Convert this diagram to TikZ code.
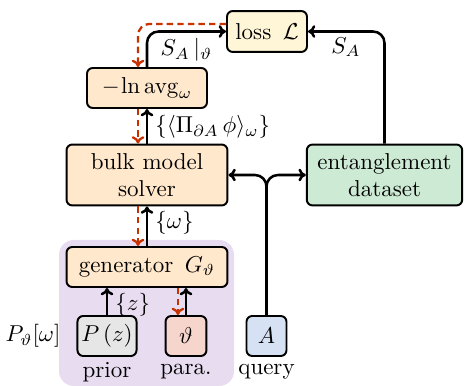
\documentclass[tikz,border=0pt]{standalone}
\usetikzlibrary{arrows.meta}
\definecolor{peach}{HTML}{FFE8CC}
\definecolor{lossy}{HTML}{FFF6D8}
\definecolor{greenf}{HTML}{CDEBD4}
\definecolor{grayf}{HTML}{E6E6E6}
\definecolor{bluef}{HTML}{D6E2F4}
\definecolor{pinkf}{HTML}{F6D6CC}
\definecolor{purplebg}{HTML}{E8DCF0}
\definecolor{redd}{RGB}{200,50,0}
\tikzset{
  box/.style={draw, line width=0.85pt, rounded corners=2.5pt, inner sep=0pt, align=center},
  blk/.style={line width=1.1pt, -{To[length=3.2pt,width=5.5pt]}},
  redarr/.style={line width=1pt, redd, dash pattern=on 2.8pt off 1.8pt, -{To[length=3.2pt,width=5.5pt]}},
  lbl/.style={inner sep=0pt}
}
\begin{document}
\begin{tikzpicture}[x=0.435pt,y=-0.435pt]
\useasboundingbox (0,0) rectangle (465,386);
\fill[purplebg, rounded corners=6.5pt] (59,240) rectangle (234,386);
\node[box, fill=lossy, minimum width=34.8pt, minimum height=17.8pt] (loss) at (267,31.5) {loss\enspace$\mathcal{L}$};
\node[box, fill=peach, minimum width=52.2pt, minimum height=17.4pt] (avg) at (147,88) {$-\mkern-2mu\ln \mathrm{avg}_\omega$};
\node[box, fill=peach, minimum width=70pt, minimum height=26.5pt] (bulk) at (147,175) {bulk model\\solver};
\node[box, fill=greenf, minimum width=67.6pt, minimum height=26.5pt] (data) at (384.5,175) {entanglement\\dataset};
\node[box, fill=peach, minimum width=70pt, minimum height=17.4pt] (gen) at (147,267) {generator\enspace$G_\vartheta$};
\node[box, fill=grayf, minimum width=25.7pt, minimum height=17.4pt] (pz) at (107,336) {$P\,(z)$};
\node[box, fill=pinkf, minimum width=17.8pt, minimum height=17.4pt] (th) at (186,336) {$\vartheta$};
\node[box, fill=bluef, minimum width=17.4pt, minimum height=17.4pt] (A) at (266.5,336) {$A$};
\node[lbl] (prior) at (107,372) {prior};
\node[lbl] (para) at (186,372) {para.};
\node[lbl] (query) at (266.5,372) {query};
\node[lbl] (pw) at (33,336) {$P_\vartheta[\omega]$};
% black connectors
\draw[blk, rounded corners=5pt] (avg.north) |- (loss.west);
\draw[blk, rounded corners=5pt] (data.north) |- (loss.east);
\draw[blk] (bulk.north) -- (avg.south);
\draw[blk] (gen.north) -- (bulk.south);
\draw[blk] (pz.north) -- (pz.north |- gen.south);
\draw[blk] (th.north) -- (th.north |- gen.south);
\draw[blk, rounded corners=5pt] (A.north) |- (bulk.east);
\draw[blk, rounded corners=5pt] (A.north) |- (data.west);
% red dashed
\coordinate (lr) at ([yshift=3.3pt]loss.west);
\draw[redarr, rounded corners=5pt] (lr) -| ([xshift=-3.9pt]avg.north);
\draw[redarr] ([xshift=-3.9pt]avg.south) -- ([xshift=-3.9pt]avg.south |- bulk.north);
\draw[redarr] ([xshift=-3.9pt]bulk.south) -- ([xshift=-3.9pt]bulk.south |- gen.north);
\draw[redarr] ([xshift=-3.5pt]th.north |- gen.south) -- ([xshift=-3.5pt]th.north);
% labels
\node[lbl] (l1) at (186.5,50) {$S_A\,|_\vartheta$};
\node[lbl] (l2) at (346,47) {$S_A$};
\node[lbl, anchor=west] (l3) at (155,127) {$\{\langle \Pi_{\partial A}\,\phi\rangle_\omega\}$};
\node[lbl, anchor=west] (l4) at (155,223) {$\{\omega\}$};
\node[lbl, anchor=west] (l5) at (115,305) {$\{z\}$};
\end{tikzpicture}
\end{document}
